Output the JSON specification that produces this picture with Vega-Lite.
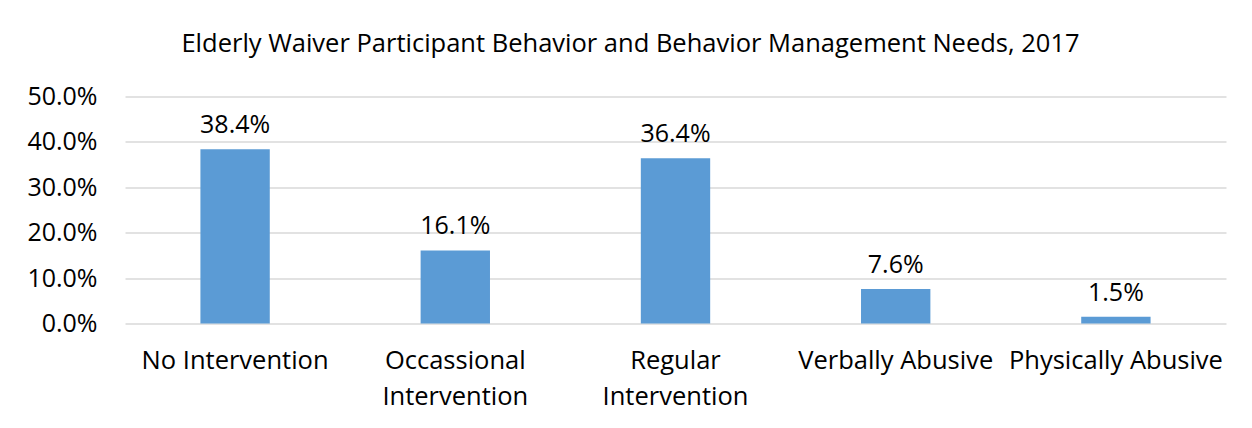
{
  "$schema": "https://vega.github.io/schema/vega-lite/v6.json",
  "width": 1101,
  "height": 227,
  "autosize": {"type": "none"},
  "padding": {"left": 125, "top": 96.5, "right": 26, "bottom": 104.5},
  "background": "white",
  "title": {
    "text": "Elderly Waiver Participant Behavior and Behavior Management Needs, 2017",
    "anchor": "middle",
    "dx": -45,
    "offset": 27,
    "font": "Open Sans",
    "fontSize": 25.5,
    "fontWeight": "normal",
    "color": "#000000"
  },
  "data": {
    "values": [
      {"category": "No Intervention", "value": 0.384},
      {"category": "Occassional Intervention", "value": 0.161},
      {"category": "Regular Intervention", "value": 0.364},
      {"category": "Verbally Abusive", "value": 0.076},
      {"category": "Physically Abusive", "value": 0.015}
    ]
  },
  "config": {
    "view": {"stroke": null},
    "font": "Open Sans"
  },
  "encoding": {
    "x": {
      "field": "category",
      "type": "nominal",
      "sort": null,
      "scale": {"paddingInner": 0.685, "paddingOuter": 0.3425},
      "axis": {
        "title": null,
        "labelAngle": 0,
        "ticks": false,
        "domain": false,
        "labelFont": "Open Sans",
        "labelFontSize": 25.5,
        "labelColor": "#000000",
        "labelPadding": 25,
        "labelLineHeight": 36,
        "labelBaseline": "top",
        "labelLimit": 400,
        "labelOverlap": false,
        "labelExpr": "datum.value == 'Occassional Intervention' ? ['Occassional', 'Intervention'] : datum.value == 'Regular Intervention' ? ['Regular', 'Intervention'] : datum.value"
      }
    },
    "y": {
      "field": "value",
      "type": "quantitative",
      "scale": {"domain": [0, 0.5]},
      "axis": {
        "title": null,
        "format": ".1%",
        "values": [0, 0.1, 0.2, 0.3, 0.4, 0.5],
        "ticks": false,
        "domain": false,
        "gridColor": "#D9D9D9",
        "gridWidth": 1.5,
        "labelFont": "Open Sans",
        "labelFontSize": 25,
        "labelColor": "#000000",
        "labelPadding": 28
      }
    }
  },
  "layer": [
    {"mark": {"type": "bar", "color": "#5B9BD5"}},
    {
      "mark": {"type": "text", "baseline": "bottom", "dy": -11, "font": "Open Sans", "fontSize": 25, "color": "#000000"},
      "encoding": {"text": {"field": "value", "type": "quantitative", "format": ".1%"}}
    }
  ]
}
